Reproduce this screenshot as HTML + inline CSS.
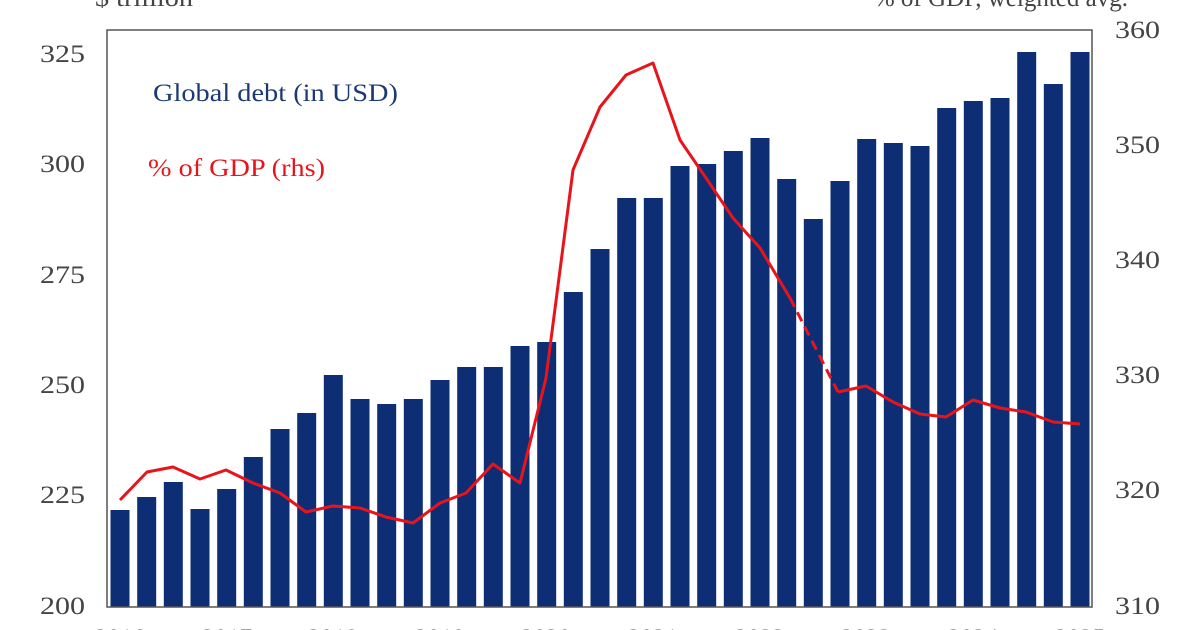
<!DOCTYPE html>
<html><head><meta charset="utf-8"><style>
html,body{margin:0;padding:0;background:#fff;}
svg{display:block;font-family:"Liberation Serif",serif;}
</style></head><body>
<svg width="1200" height="630" viewBox="0 0 1200 630" xmlns="http://www.w3.org/2000/svg">
<g fill="#444" font-size="25">
<text x="95" y="6" textLength="98" lengthAdjust="spacingAndGlyphs">$ trillion</text>
<text x="1128" y="6" text-anchor="end">% of GDP, weighted avg.</text>
<g text-anchor="end">
<text x="85" y="62" textLength="45" lengthAdjust="spacingAndGlyphs">325</text>
<text x="85" y="172" textLength="45" lengthAdjust="spacingAndGlyphs">300</text>
<text x="85" y="283" textLength="45" lengthAdjust="spacingAndGlyphs">275</text>
<text x="85" y="393" textLength="45" lengthAdjust="spacingAndGlyphs">250</text>
<text x="85" y="503" textLength="45" lengthAdjust="spacingAndGlyphs">225</text>
<text x="85" y="614" textLength="45" lengthAdjust="spacingAndGlyphs">200</text>
</g>
<text x="1115" y="38" textLength="45" lengthAdjust="spacingAndGlyphs">360</text>
<text x="1115" y="153" textLength="45" lengthAdjust="spacingAndGlyphs">350</text>
<text x="1115" y="268" textLength="45" lengthAdjust="spacingAndGlyphs">340</text>
<text x="1115" y="383" textLength="45" lengthAdjust="spacingAndGlyphs">330</text>
<text x="1115" y="498" textLength="45" lengthAdjust="spacingAndGlyphs">320</text>
<text x="1115" y="614" textLength="45" lengthAdjust="spacingAndGlyphs">310</text>
<g text-anchor="middle">
<text x="120" y="646">2016</text><text x="227" y="646">2017</text><text x="333" y="646">2018</text>
<text x="440" y="646">2019</text><text x="546" y="646">2020</text><text x="653" y="646">2021</text>
<text x="760" y="646">2022</text><text x="866" y="646">2023</text><text x="973" y="646">2024</text>
<text x="1080" y="646">2025</text>
</g>
</g>
<g fill="#0d2d74">
<rect x="110.5" y="510" width="19" height="97"/>
<rect x="137.2" y="497" width="19" height="110"/>
<rect x="163.8" y="482" width="19" height="125"/>
<rect x="190.5" y="509" width="19" height="98"/>
<rect x="217.2" y="489" width="19" height="118"/>
<rect x="243.8" y="457" width="19" height="150"/>
<rect x="270.5" y="429" width="19" height="178"/>
<rect x="297.2" y="413" width="19" height="194"/>
<rect x="323.8" y="375" width="19" height="232"/>
<rect x="350.5" y="399" width="19" height="208"/>
<rect x="377.2" y="404" width="19" height="203"/>
<rect x="403.8" y="399" width="19" height="208"/>
<rect x="430.5" y="380" width="19" height="227"/>
<rect x="457.2" y="367" width="19" height="240"/>
<rect x="483.8" y="367" width="19" height="240"/>
<rect x="510.5" y="346" width="19" height="261"/>
<rect x="537.2" y="342" width="19" height="265"/>
<rect x="563.8" y="292" width="19" height="315"/>
<rect x="590.5" y="249" width="19" height="358"/>
<rect x="617.2" y="198" width="19" height="409"/>
<rect x="643.8" y="198" width="19" height="409"/>
<rect x="670.5" y="166" width="19" height="441"/>
<rect x="697.2" y="164" width="19" height="443"/>
<rect x="723.8" y="151" width="19" height="456"/>
<rect x="750.5" y="138" width="19" height="469"/>
<rect x="777.2" y="179" width="19" height="428"/>
<rect x="803.8" y="219" width="19" height="388"/>
<rect x="830.5" y="181" width="19" height="426"/>
<rect x="857.2" y="139" width="19" height="468"/>
<rect x="883.8" y="143" width="19" height="464"/>
<rect x="910.5" y="146" width="19" height="461"/>
<rect x="937.2" y="108" width="19" height="499"/>
<rect x="963.8" y="101" width="19" height="506"/>
<rect x="990.5" y="98" width="19" height="509"/>
<rect x="1017.2" y="52" width="19" height="555"/>
<rect x="1043.8" y="84" width="19" height="523"/>
<rect x="1070.5" y="52" width="19" height="555"/>
</g>
<rect x="107" y="30" width="985" height="577" fill="none" stroke="#555" stroke-width="1.5"/>
<g fill="none" stroke="#e8141c" stroke-width="3" stroke-linejoin="round">
<polyline points="120,500 147,472 173,467 200,479 226,470 253,483 280,493 306,512 333,506 360,508 386,517 413,523 440,503 466,493 493,464 520,483 546,378 573,170 600,107 626,75 653,63 680,140 706,178 733,218 760,248 790,298"/>
<polyline points="790,298 838,392" stroke-dasharray="10,6"/>
<polyline points="838,392 866,386 893,402 920,414 946,417 973,400 1000,408 1026,412 1053,422 1080,424"/>
</g>
<text x="153" y="101" font-size="25" fill="#1c3a72" textLength="245" lengthAdjust="spacingAndGlyphs">Global debt (in USD)</text>
<text x="148" y="176" font-size="25" fill="#e8141c" textLength="177" lengthAdjust="spacingAndGlyphs">% of GDP (rhs)</text>
</svg>
</body></html>
